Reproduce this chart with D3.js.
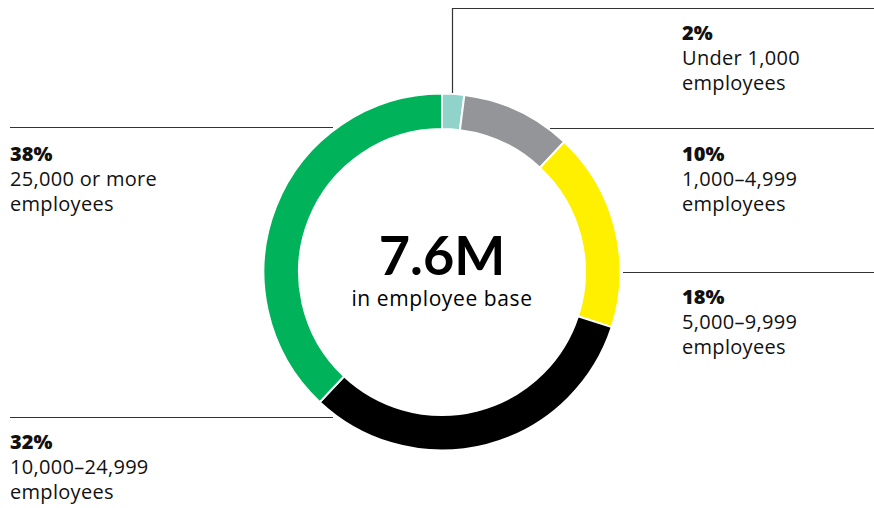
<!DOCTYPE html>
<html><head><meta charset="utf-8">
<script src="https://cdn.jsdelivr.net/npm/d3@7"></script>
<style>
html,body{margin:0;padding:0;background:#fff;}
svg{display:block;font-family:"Open Sans",Lato,sans-serif;}
</style></head>
<body><svg id="c" width="874" height="508"></svg>
<script>
const categories = ["Under 1,000 employees","1,000–4,999 employees","5,000–9,999 employees","10,000–24,999 employees","25,000 or more employees"];
const values = [2, 10, 18, 32, 38];
const pctLabels = ["2%","10%","18%","32%","38%"];
const line1 = ["Under 1,000","1,000–4,999","5,000–9,999","10,000–24,999","25,000 or more"];
const line2 = ["employees","employees","employees","employees","employees"];
const colors = ["#8fd3cb","#939598","#fff000","#000000","#00b259"];
const centerValue = "7.6M";
const centerLabel = "in employee base";

const svg = d3.select("#c");
const cx = 442, cy = 272, R = 178.5, r = 143;

const pie = d3.pie().sort(null).value(d => d)(values);
const arc = d3.arc().innerRadius(r).outerRadius(R);
const g = svg.append("g").attr("transform", `translate(${cx},${cy})`);
g.selectAll("path").data(pie).join("path")
  .attr("d", arc).attr("fill", (d,i) => colors[i])
  .attr("stroke", "#fff").attr("stroke-width", 2);

// center text
svg.append("text").attr("x", cx).attr("y", 275).attr("text-anchor","middle")
  .attr("font-family","Lato,sans-serif")
  .attr("font-size", 54).attr("font-weight", 700).attr("fill","#000").text(centerValue);
svg.append("text").attr("x", cx).attr("y", 306).attr("text-anchor","middle")
  .attr("font-size", 21).attr("letter-spacing", 0.6).attr("fill","#000").text(centerLabel);

// leader lines
const lineColor = "#333";
const leaders = [
  {pts:[[452.5,93],[452.5,8.5],[874,8.5]], tx:682, ty:40, i:0},
  {pts:[[550,128.5],[874,128.5]], tx:682, ty:161, i:1},
  {pts:[[623,272.5],[874,272.5]], tx:682, ty:304, i:2},
  {pts:[[333,417.5],[10,417.5]], tx:10, ty:448.5, i:3},
  {pts:[[333,127.5],[10,127.5]], tx:10, ty:161, i:4}
];
const lg = d3.line();
leaders.forEach(L => {
  svg.append("path").attr("d", lg(L.pts)).attr("fill","none")
    .attr("stroke", lineColor).attr("stroke-width", 1.2);
  const t = svg.append("text").attr("x", L.tx).attr("y", L.ty).attr("font-size", 20)
    .attr("letter-spacing", 0.3).attr("fill","#111");
  t.append("tspan").attr("x", L.tx).attr("font-weight", 800).attr("letter-spacing", 0).text(pctLabels[L.i]);
  t.append("tspan").attr("x", L.tx).attr("dy", 25).text(line1[L.i]);
  t.append("tspan").attr("x", L.tx).attr("dy", 25).text(line2[L.i]);
});
</script></body></html>
